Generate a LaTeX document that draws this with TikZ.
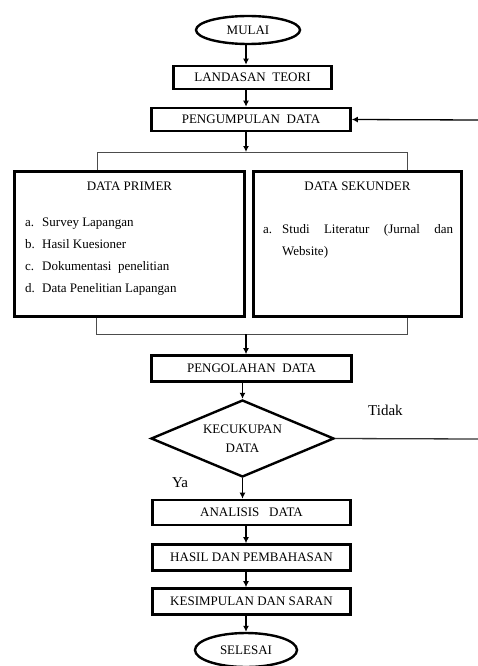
\documentclass[tikz,border=0pt]{standalone}
\usepackage{fontspec}
\setmainfont{Liberation Serif}
\usetikzlibrary{shapes.geometric,arrows.meta}
\begin{document}
\begin{tikzpicture}[x=1pt,y=-1pt,
  box/.style={draw,line width=2.6pt,rectangle,inner sep=0pt,font=\fontsize{13}{15}\selectfont},
  term/.style={draw,line width=2.4pt,ellipse,inner sep=0pt,font=\fontsize{13}{15}\selectfont},
  dec/.style={draw,line width=2.4pt,diamond,aspect=2.4,inner sep=0pt,align=center,font=\fontsize{13}{19}\selectfont},
  txt/.style={inner sep=0pt,font=\fontsize{13}{15}\selectfont},
  lbl/.style={inner sep=0pt,font=\fontsize{15}{17}\selectfont},
  arr/.style={-{Latex[length=6pt,width=6pt]},line width=1.3pt},
  conn/.style={line width=1pt,draw=black!70},
  plain/.style={line width=1.3pt,draw=black!80}]
\useasboundingbox (0,0) rectangle (478,666);
\coordinate (t) at (246,0);
% top part
\node[term,minimum width=104pt,minimum height=28pt] (mulai) at (248,30) {MULAI};
\node[box,minimum width=158pt,minimum height=23pt] (land) at (252.5,77.5) {LANDASAN\ \ TEORI};
\node[box,minimum width=199pt,minimum height=23pt] (kump) at (251,119.5) {PENGUMPULAN\ \ DATA};
\draw[arr] (mulai.south -| t) -- (land.north -| t);
\draw[arr] (land.south -| t) -- (kump.north -| t);
\coordinate (rt) at (478,120);
\draw[arr] (rt) -- (kump.east);
% data boxes
\node[box,minimum width=230pt,minimum height=145pt] (primer) at (129.5,244) {};
\node[box,minimum width=208pt,minimum height=145pt] (sek) at (357.5,244) {};
\coordinate (bl) at (97,152);
\coordinate (br) at (407,152);
\draw[arr] (kump.south -| t) -- (t |- bl);
\draw[conn] (bl |- primer.north) -- (bl) -- (br) -- (br |- sek.north);
% primer contents
\node[txt,anchor=base] (ptitle) at (129.5,190) {DATA PRIMER};
\node[txt,anchor=base west] (pa) at (25,226) {a.};
\node[txt,anchor=base west] (pat) at (42,226) {Survey Lapangan};
\node[txt,anchor=base west] (pb) at (25,248) {b.};
\node[txt,anchor=base west] (pbt) at (42,248) {Hasil Kuesioner};
\node[txt,anchor=base west] (pc) at (25,270) {c.};
\node[txt,anchor=base west] (pct) at (42,270) {Dokumentasi\ \ penelitian};
\node[txt,anchor=base west] (pd) at (25,292) {d.};
\node[txt,anchor=base west] (pdt) at (42,292) {Data Penelitian Lapangan};
% sekunder contents
\node[txt,anchor=base] (stitle) at (357.5,190) {DATA SEKUNDER};
\node[txt,anchor=base west] (sa) at (263,233) {a.};
\node[txt,anchor=base west] (sat) at (282,233) {\makebox[171pt][s]{Studi Literatur (Jurnal dan}};
\node[txt,anchor=base west] (sat2) at (282,255) {Website)};
% merge
\coordinate (ml) at (96,334);
\coordinate (mr) at (407,334);
\draw[conn] (primer.south -| ml) -- (ml) -- (mr) -- (sek.south -| mr);
\node[box,minimum width=200pt,minimum height=26pt] (olah) at (251.5,368.5) {PENGOLAHAN\ \ DATA};
\draw[arr] (t |- ml) -- (olah.north -| t);
% decision
\node[dec,minimum width=183pt,minimum height=77pt] (dia) at (242.5,438.5) {KECUKUPAN\\DATA};
\draw[arr] (olah.south -| dia.north) -- (dia.north);
\node[lbl,anchor=west] (tidak) at (368,410) {Tidak};
\coordinate (re) at (478,439);
\draw[plain] (dia.east) -- (re);
\node[lbl] (ya) at (180,483) {Ya};
% lower part
\node[box,minimum width=198pt,minimum height=25pt] (anal) at (251.5,512.5) {ANALISIS\ \ \ DATA};
\node[box,minimum width=198pt,minimum height=26pt] (hasil) at (251.5,557.5) {HASIL\ DAN PEMBAHASAN};
\node[box,minimum width=198pt,minimum height=26pt] (kes) at (251.5,601.5) {KESIMPULAN\ DAN\ SARAN};
\node[term,minimum width=102pt,minimum height=34pt] (sel) at (246,650) {SELESAI};
\draw[arr] (dia.south) -- (anal.north -| dia.south);
\draw[arr] (anal.south -| t) -- (hasil.north -| t);
\draw[arr] (hasil.south -| t) -- (kes.north -| t);
\draw[arr] (kes.south -| t) -- (sel.north -| t);
\end{tikzpicture}
\end{document}
